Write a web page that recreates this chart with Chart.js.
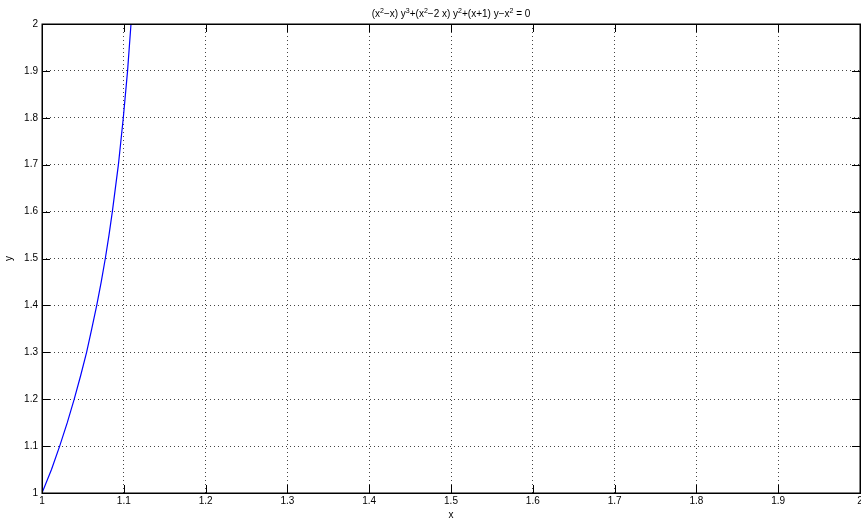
<!DOCTYPE html>
<html>
<head>
<meta charset="utf-8">
<script src="https://cdn.jsdelivr.net/npm/chart.js@4.4.1/dist/chart.umd.min.js"></script>
<style>
  html, body { margin: 0; padding: 0; background: #fff; overflow: hidden; }
  #wrap { width: 861px; height: 524px; overflow: hidden; }
</style>
</head>
<body>
<div id="wrap"><canvas id="curveChart" width="880" height="524"></canvas></div>
<script>
// points along the implicit curve, read at each y level
const curveX = [1.0, 1.0116, 1.0216, 1.0309, 1.0394, 1.0472, 1.0545, 1.0608, 1.0669, 1.0724, 1.0774, 1.0819, 1.0860, 1.0934, 1.0994, 1.1046, 1.1088];
const curveY = [1.0, 1.05, 1.1, 1.15, 1.2, 1.25, 1.3, 1.35, 1.4, 1.45, 1.5, 1.55, 1.6, 1.7, 1.8, 1.9, 2.0];
const xRange = [1, 2];
const yRange = [1, 2];
const tickStep = 0.1;
// title pieces: [text, superscript?]
const titleParts = [
  ['(x', false], ['2', true], ['\u2212x) y', false], ['3', true], ['+(x', false], ['2', true],
  ['\u22122 x) y', false], ['2', true], ['+(x+1) y\u2212x', false], ['2', true], [' = 0', false]
];

const FONT = '"Liberation Sans", Arial, Helvetica, sans-serif';

const points = curveX.map((x, i) => ({ x: x, y: curveY[i] }));

function drawTitle(ctx, cx, cy) {
  const norm = '10px ' + FONT, sup = '7px ' + FONT;
  let total = 0;
  titleParts.forEach(([t, s]) => { ctx.font = s ? sup : norm; total += ctx.measureText(t).width; });
  let x = cx - total / 2;
  ctx.textAlign = 'left';
  ctx.textBaseline = 'alphabetic';
  titleParts.forEach(([t, s]) => {
    ctx.font = s ? sup : norm;
    ctx.fillText(t, x, s ? cy - 4 : cy);
    x += ctx.measureText(t).width;
  });
}

// frame, inward tick marks and the title, drawn the old plotting-package way
const boxPlugin = {
  id: 'boxPlugin',
  afterDraw(chart) {
    const { ctx, chartArea: a, scales } = chart;
    ctx.save();
    ctx.strokeStyle = '#000';
    ctx.lineWidth = 1;
    ctx.beginPath();
    const tl = 8;
    scales.x.ticks.forEach(t => {
      const px = Math.round(scales.x.getPixelForValue(t.value)) + 0.5;
      ctx.moveTo(px, a.bottom); ctx.lineTo(px, a.bottom - tl);
      ctx.moveTo(px, a.top); ctx.lineTo(px, a.top + tl);
    });
    scales.y.ticks.forEach(t => {
      const py = Math.round(scales.y.getPixelForValue(t.value)) + 0.5;
      ctx.moveTo(a.left, py); ctx.lineTo(a.left + tl, py);
      ctx.moveTo(a.right, py); ctx.lineTo(a.right - tl, py);
    });
    ctx.stroke();
    ctx.lineWidth = 1.5;
    ctx.strokeRect(Math.round(a.left) + 0.25, Math.round(a.top) + 0.25, a.right - a.left, a.bottom - a.top);
    ctx.fillStyle = '#000';
    drawTitle(ctx, (a.left + a.right) / 2, 17);
    ctx.restore();
  }
};

const fmt = v => String(+Number(v).toFixed(1));

new Chart(document.getElementById('curveChart'), {
  type: 'scatter',
  data: {
    datasets: [{
      data: points,
      showLine: true,
      borderColor: '#0000ff',
      borderWidth: 1.2,
      pointRadius: 0,
      tension: 0,
      fill: false
    }]
  },
  options: {
    responsive: false,
    animation: false,
    layout: { padding: { top: 24, right: 20, left: 0, bottom: 0 } },
    plugins: {
      legend: { display: false },
      tooltip: { enabled: false },
      title: { display: false }
    },
    scales: {
      x: {
        type: 'linear',
        min: xRange[0],
        max: xRange[1],
        afterFit: s => { s.height = 31; },
        ticks: { stepSize: tickStep, color: '#000', font: { family: FONT, size: 10 }, padding: 2, callback: fmt, maxRotation: 0 },
        grid: { color: '#444', drawTicks: false, lineWidth: 1 },
        border: { display: false, dash: [1, 3] },
        title: { display: true, text: 'x', color: '#000', font: { family: FONT, size: 10 }, padding: { top: 0, bottom: 3 } }
      },
      y: {
        type: 'linear',
        min: yRange[0],
        max: yRange[1],
        afterFit: s => { s.width = 42; },
        ticks: { stepSize: tickStep, color: '#000', font: { family: FONT, size: 10 }, padding: 4, callback: fmt },
        grid: { color: '#444', drawTicks: false, lineWidth: 1 },
        border: { display: false, dash: [1, 3] },
        title: { display: true, text: 'y', color: '#000', font: { family: FONT, size: 10 }, padding: { top: 3, bottom: 0 } }
      }
    }
  },
  plugins: [boxPlugin]
});
</script>
</body>
</html>
